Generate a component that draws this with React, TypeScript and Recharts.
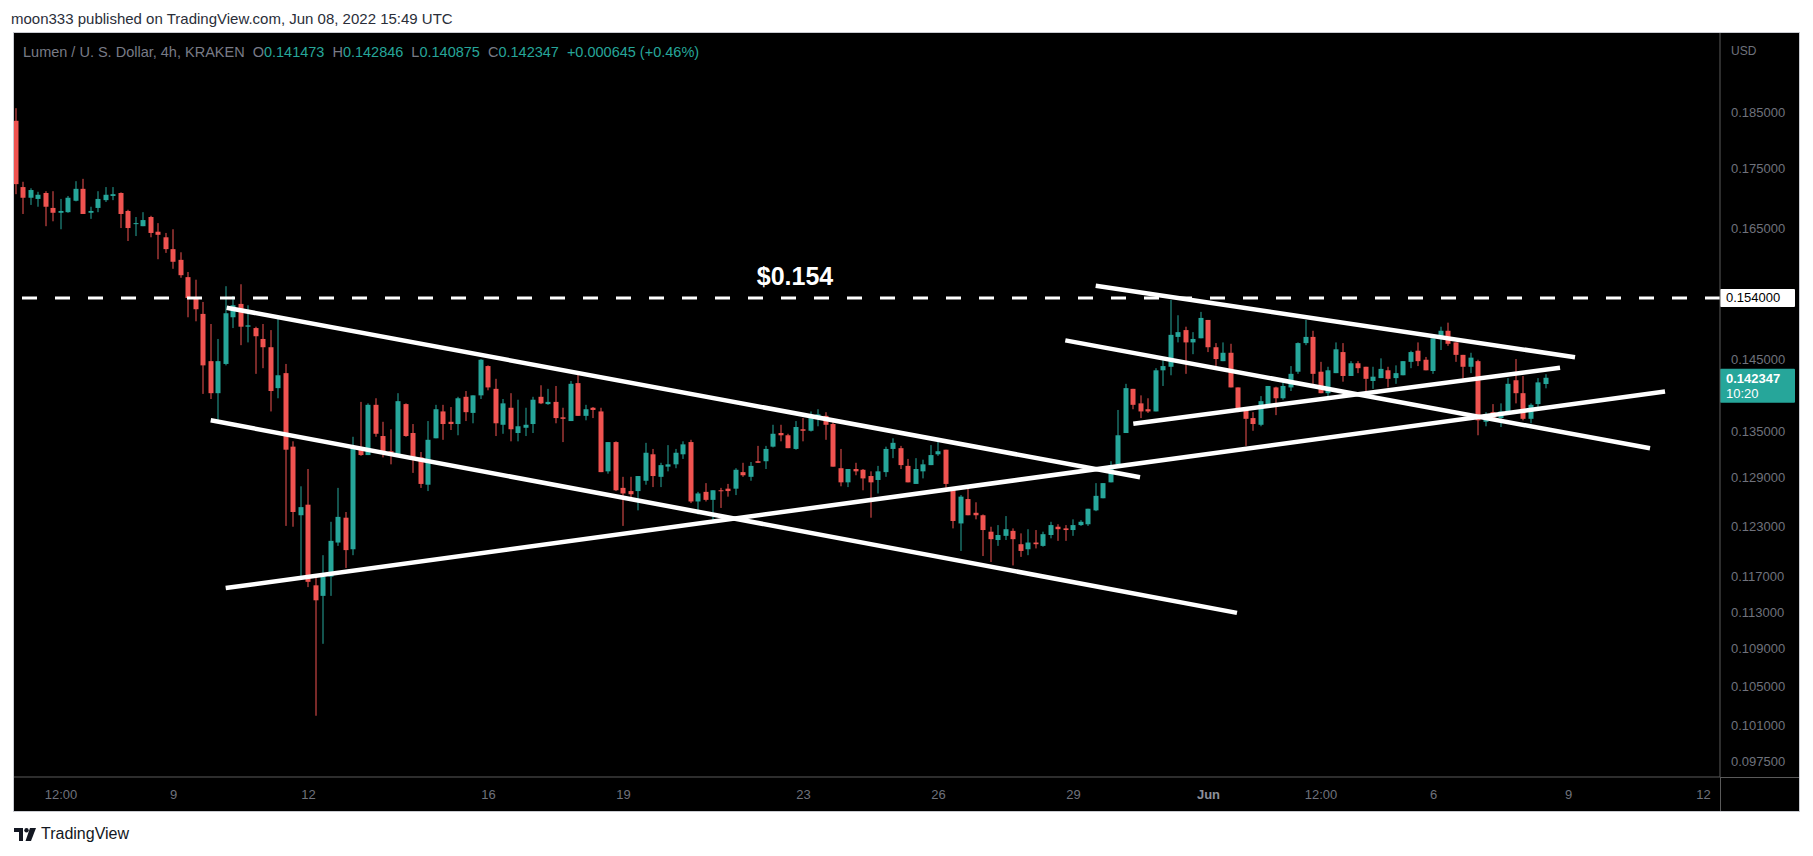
import React from 'react';
import { ComposedChart, Bar, XAxis, YAxis, ReferenceLine } from 'recharts';

// ---- data (Lumen / USD, 4h, KRAKEN) ----
const opens = [
  0.1834, 0.1718, 0.1700, 0.1698, 0.1708, 0.1683, 0.1675, 0.1676, 0.1695, 0.1715,
  0.1675, 0.1683, 0.1696, 0.1703, 0.1708, 0.1678, 0.1657, 0.1653, 0.1668, 0.1644,
  0.1635, 0.1616, 0.1599, 0.1572, 0.1541, 0.1516, 0.1447, 0.1402, 0.1443, 0.1511,
  0.1531, 0.1497, 0.1495, 0.1479, 0.1467, 0.1409, 0.1430, 0.1330, 0.1243, 0.1256,
  0.1160, 0.1148, 0.1170, 0.1210, 0.1240, 0.1202, 0.1328, 0.1319, 0.1386, 0.1344,
  0.1324, 0.1319, 0.1387, 0.1348, 0.1316, 0.1281, 0.1341, 0.1377, 0.1363, 0.1360,
  0.1397, 0.1375, 0.1399, 0.1440, 0.1408, 0.1359, 0.1382, 0.1348, 0.1355, 0.1360,
  0.1397, 0.1387, 0.1390, 0.1369, 0.1364, 0.1416, 0.1371, 0.1382, 0.1377, 0.1298,
  0.1336, 0.1277, 0.1273, 0.1273, 0.1286, 0.1320, 0.1291, 0.1304, 0.1307, 0.1320,
  0.1336, 0.1260, 0.1272, 0.1262, 0.1274, 0.1276, 0.1276, 0.1297, 0.1291, 0.1311,
  0.1311, 0.1330, 0.1348, 0.1345, 0.1327, 0.1353, 0.1351, 0.1367, 0.1371, 0.1360,
  0.1302, 0.1284, 0.1301, 0.1300, 0.1292, 0.1287, 0.1297, 0.1327, 0.1328, 0.1305,
  0.1282, 0.1298, 0.1306, 0.1320, 0.1326, 0.1277, 0.1233, 0.1263, 0.1246, 0.1243,
  0.1223, 0.1213, 0.1218, 0.1224, 0.1208, 0.1202, 0.1210, 0.1206, 0.1219, 0.1229,
  0.1227, 0.1225, 0.1231, 0.1232, 0.1249, 0.1264, 0.1284, 0.1307, 0.1348, 0.1408,
  0.1388, 0.1380, 0.1377, 0.1434, 0.1439, 0.1482, 0.1492, 0.1474, 0.1480, 0.1507,
  0.1467, 0.1447, 0.1459, 0.1410, 0.1379, 0.1368, 0.1359, 0.1384, 0.1410, 0.1395,
  0.1410, 0.1432, 0.1473, 0.1482, 0.1432, 0.1402, 0.1430, 0.1460, 0.1426, 0.1444,
  0.1439, 0.1419, 0.1423, 0.1434, 0.1423, 0.1427, 0.1446, 0.1462, 0.1449, 0.1433,
  0.1479, 0.1491, 0.1474, 0.1456, 0.1439, 0.1447, 0.1363, 0.1376, 0.1368, 0.1376,
  0.1420, 0.1402, 0.1367, 0.1387, 0.141473,
];
const highs = [
  0.1857, 0.1727, 0.1716, 0.1710, 0.1711, 0.1711, 0.1698, 0.1703, 0.1728, 0.1732,
  0.1685, 0.1711, 0.1718, 0.1718, 0.1709, 0.1680, 0.1668, 0.1676, 0.1670, 0.1658,
  0.1642, 0.1648, 0.1611, 0.1580, 0.1568, 0.1534, 0.1501, 0.1479, 0.1558, 0.1543,
  0.1561, 0.1529, 0.1497, 0.1501, 0.1492, 0.1510, 0.1443, 0.1337, 0.1279, 0.1301,
  0.1170, 0.1195, 0.1235, 0.1277, 0.1247, 0.1343, 0.1390, 0.1388, 0.1395, 0.1363,
  0.1353, 0.1402, 0.1388, 0.1360, 0.1323, 0.1364, 0.1386, 0.1386, 0.1383, 0.1397,
  0.1405, 0.1399, 0.1450, 0.1441, 0.1422, 0.1394, 0.1402, 0.1393, 0.1382, 0.1397,
  0.1413, 0.1408, 0.1412, 0.1382, 0.1419, 0.1429, 0.1386, 0.1383, 0.1382, 0.1336,
  0.1337, 0.1291, 0.1291, 0.1292, 0.1335, 0.1327, 0.1309, 0.1332, 0.1327, 0.1337,
  0.1339, 0.1272, 0.1283, 0.1274, 0.1277, 0.1282, 0.1302, 0.1309, 0.1310, 0.1331,
  0.1331, 0.1359, 0.1359, 0.1347, 0.1364, 0.1368, 0.1377, 0.1380, 0.1376, 0.1368,
  0.1327, 0.1301, 0.1309, 0.1301, 0.1298, 0.1305, 0.1330, 0.1341, 0.1331, 0.1314,
  0.1315, 0.1313, 0.1332, 0.1336, 0.1326, 0.1277, 0.1268, 0.1277, 0.1259, 0.1244,
  0.1229, 0.1231, 0.1242, 0.1227, 0.1221, 0.1226, 0.1225, 0.1223, 0.1235, 0.1232,
  0.1231, 0.1238, 0.1237, 0.1251, 0.1283, 0.1283, 0.1311, 0.1379, 0.1415, 0.1408,
  0.1399, 0.1395, 0.1437, 0.1449, 0.1537, 0.1514, 0.1497, 0.1489, 0.1519, 0.1507,
  0.1473, 0.1474, 0.1472, 0.1410, 0.1379, 0.1376, 0.1398, 0.1412, 0.1411, 0.1419,
  0.1440, 0.1474, 0.1507, 0.1491, 0.1446, 0.1439, 0.1474, 0.1473, 0.1447, 0.1447,
  0.1439, 0.1439, 0.1451, 0.1439, 0.1441, 0.1447, 0.1462, 0.1474, 0.1453, 0.1480,
  0.1497, 0.1503, 0.1474, 0.1456, 0.1459, 0.1449, 0.1376, 0.1387, 0.1388, 0.1423,
  0.1450, 0.1426, 0.1388, 0.1423, 0.142846,
];
const lows = [
  0.1706, 0.1673, 0.1688, 0.1685, 0.1653, 0.1661, 0.1648, 0.1675, 0.1694, 0.1673,
  0.1665, 0.1676, 0.1693, 0.1696, 0.1650, 0.1629, 0.1637, 0.1653, 0.1635, 0.1600,
  0.1610, 0.1585, 0.1571, 0.1511, 0.1505, 0.1401, 0.1394, 0.1365, 0.1441, 0.1495,
  0.1470, 0.1474, 0.1429, 0.1437, 0.1377, 0.1395, 0.1230, 0.1229, 0.1170, 0.1158,
  0.1020, 0.1095, 0.1148, 0.1206, 0.1180, 0.1195, 0.1318, 0.1319, 0.1343, 0.1316,
  0.1307, 0.1319, 0.1343, 0.1296, 0.1277, 0.1273, 0.1341, 0.1339, 0.1352, 0.1345,
  0.1364, 0.1361, 0.1394, 0.1406, 0.1344, 0.1347, 0.1337, 0.1337, 0.1344, 0.1348,
  0.1387, 0.1386, 0.1361, 0.1336, 0.1364, 0.1371, 0.1365, 0.1368, 0.1297, 0.1295,
  0.1273, 0.1230, 0.1263, 0.1249, 0.1281, 0.1278, 0.1278, 0.1298, 0.1302, 0.1314,
  0.1258, 0.1244, 0.1260, 0.1236, 0.1252, 0.1266, 0.1268, 0.1291, 0.1286, 0.1309,
  0.1301, 0.1329, 0.1337, 0.1328, 0.1326, 0.1337, 0.1350, 0.1357, 0.1339, 0.1304,
  0.1279, 0.1278, 0.1293, 0.1274, 0.1240, 0.1270, 0.1291, 0.1315, 0.1301, 0.1284,
  0.1282, 0.1289, 0.1306, 0.1318, 0.1277, 0.1227, 0.1200, 0.1243, 0.1238, 0.1194,
  0.1187, 0.1206, 0.1213, 0.1183, 0.1193, 0.1195, 0.1203, 0.1205, 0.1215, 0.1212,
  0.1212, 0.1218, 0.1230, 0.1230, 0.1248, 0.1264, 0.1284, 0.1307, 0.1348, 0.1380,
  0.1368, 0.1375, 0.1377, 0.1412, 0.1427, 0.1474, 0.1429, 0.1457, 0.1480, 0.1460,
  0.1440, 0.1447, 0.1410, 0.1376, 0.1331, 0.1351, 0.1357, 0.1384, 0.1372, 0.1393,
  0.1405, 0.1429, 0.1470, 0.1415, 0.1402, 0.1395, 0.1430, 0.1418, 0.1426, 0.1430,
  0.1405, 0.1408, 0.1423, 0.1410, 0.1415, 0.1427, 0.1437, 0.1440, 0.1434, 0.1429,
  0.1463, 0.1469, 0.1446, 0.1420, 0.1430, 0.1345, 0.1357, 0.1367, 0.1356, 0.1376,
  0.1388, 0.1365, 0.1361, 0.1383, 0.140875,
];
const closes = [
  0.1723, 0.1700, 0.1713, 0.1705, 0.1685, 0.1675, 0.1678, 0.1700, 0.1715, 0.1673,
  0.1678, 0.1698, 0.1705, 0.1706, 0.1673, 0.1650, 0.1658, 0.1663, 0.1642, 0.1639,
  0.1616, 0.1596, 0.1575, 0.1540, 0.1523, 0.1441, 0.1402, 0.1447, 0.1517, 0.1529,
  0.1497, 0.1499, 0.1483, 0.1467, 0.1405, 0.1427, 0.1326, 0.1247, 0.1253, 0.1164,
  0.1143, 0.1170, 0.1212, 0.1241, 0.1201, 0.1330, 0.1319, 0.1386, 0.1347, 0.1322,
  0.1318, 0.1391, 0.1344, 0.1316, 0.1282, 0.1339, 0.1380, 0.1360, 0.1360, 0.1395,
  0.1376, 0.1399, 0.1449, 0.1410, 0.1361, 0.1388, 0.1353, 0.1357, 0.1359, 0.1393,
  0.1388, 0.1390, 0.1368, 0.1367, 0.1415, 0.1371, 0.1380, 0.1379, 0.1297, 0.1336,
  0.1274, 0.1270, 0.1269, 0.1292, 0.1322, 0.1292, 0.1306, 0.1307, 0.1322, 0.1333,
  0.1260, 0.1270, 0.1262, 0.1274, 0.1273, 0.1273, 0.1300, 0.1293, 0.1305, 0.1309,
  0.1327, 0.1347, 0.1345, 0.1328, 0.1356, 0.1351, 0.1368, 0.1373, 0.1359, 0.1304,
  0.1284, 0.1301, 0.1298, 0.1289, 0.1284, 0.1298, 0.1327, 0.1335, 0.1306, 0.1284,
  0.1301, 0.1307, 0.1319, 0.1324, 0.1282, 0.1236, 0.1266, 0.1243, 0.1243, 0.1225,
  0.1214, 0.1219, 0.1226, 0.1214, 0.1200, 0.1210, 0.1208, 0.1220, 0.1231, 0.1226,
  0.1225, 0.1231, 0.1235, 0.1251, 0.1267, 0.1283, 0.1306, 0.1345, 0.1409, 0.1386,
  0.1377, 0.1377, 0.1434, 0.1440, 0.1485, 0.1489, 0.1474, 0.1479, 0.1510, 0.1467,
  0.1450, 0.1459, 0.1410, 0.1380, 0.1367, 0.1360, 0.1391, 0.1412, 0.1395, 0.1412,
  0.1429, 0.1473, 0.1482, 0.1429, 0.1402, 0.1434, 0.1464, 0.1426, 0.1444, 0.1437,
  0.1422, 0.1425, 0.1436, 0.1422, 0.1430, 0.1447, 0.1460, 0.1447, 0.1434, 0.1480,
  0.1491, 0.1472, 0.1456, 0.1439, 0.1452, 0.1365, 0.1373, 0.1367, 0.1377, 0.1415,
  0.1402, 0.1367, 0.1386, 0.141702, 0.142347,
];

// x ticks: candle index -> label
const xTickIndex = [6, 21, 39, 63, 81, 105, 123, 141, 159, 174, 189, 207, 225];
const xTickLabels = ['12:00', '9', '12', '16', '19', '23', '26', '29', 'Jun', '12:00', '6', '9', '12'];
const yTicks = [0.185, 0.175, 0.165, 0.145, 0.135, 0.129, 0.123, 0.117, 0.113, 0.109, 0.105, 0.101, 0.0975];

const levelPrice = 0.154;
const levelText = '$0.154';

// trend lines: [startIndex, startPrice, endIndex, endPrice]
const trendLines = [
  [28.09, 0.15253, 149.87, 0.12904],
  [25.96, 0.1365, 162.8, 0.11289],
  [27.96, 0.11569, 219.87, 0.14043],
  [143.96, 0.15588, 207.87, 0.14526],
  [139.91, 0.1477, 217.87, 0.13278],
  [148.97, 0.13605, 205.87, 0.14377],
];

const UP = '#26a69a';
const DOWN = '#ef5350';
const AXIS_TEXT = '#6f727c';
const AXIS_LINE = '#5a5a5a';
const FONT = '"Liberation Sans", Arial, sans-serif';

const rows = opens.map((o, i) => ({
  i,
  open: o,
  high: highs[i],
  low: lows[i],
  close: closes[i],
  range: [lows[i], highs[i]],
}));

const last = rows.length - 1;
const lastClose = closes[last];
const change = closes[last] - closes[last - 1];
const changePct = (change / closes[last - 1]) * 100;

const Candle = (props: any) => {
  const { x, y, width, height, payload } = props;
  if (x == null || y == null || !payload) return null;
  const top = Math.min(y, y + height);
  const bot = Math.max(y, y + height);
  const lh = Math.log(payload.high);
  const ll = Math.log(payload.low);
  const span = lh - ll;
  const toY = (p: number) => (span > 0 ? top + ((bot - top) * (lh - Math.log(p))) / span : top);
  const yo = toY(payload.open);
  const yc = toY(payload.close);
  const up = payload.close >= payload.open;
  const color = up ? UP : DOWN;
  const bTop = Math.min(yo, yc);
  const bH = Math.max(Math.abs(yo - yc), 1);
  const cx = Math.round(x + width / 2);
  return (
    <g>
      <rect x={cx - 0.5} y={top} width={1} height={Math.max(bot - top, 1)} fill={color} />
      <rect x={cx - width / 2} y={bTop} width={width} height={bH} fill={color} />
    </g>
  );
};

const XTick = (props: any) => {
  const { x, y, payload } = props;
  const idx = xTickIndex.indexOf(payload.value);
  const label = idx >= 0 ? xTickLabels[idx] : '';
  const bold = label === 'Jun';
  return (
    <text x={x} y={y} dy="0.71em" textAnchor="middle" fill={bold ? '#8d909a' : AXIS_TEXT}
      fontSize={13} fontFamily={FONT} fontWeight={bold ? 700 : 400}>
      {label}
    </text>
  );
};

const LevelLabel = (props: any) => {
  const vb = props.viewBox || {};
  const right = vb.x + vb.width;
  return (
    <g>
      <text x={vb.x + 781} y={vb.y - 13} textAnchor="middle" fill="#ffffff" fontSize={25}
        fontWeight={700} fontFamily={FONT}>{levelText}</text>
      <rect x={right} y={vb.y - 9} width={75} height={18} fill="#ffffff" rx={1} />
      <text x={right + 6} y={vb.y + 4.5} fill="#000000" fontSize={13} fontFamily={FONT}>
        {levelPrice.toFixed(6)}
      </text>
    </g>
  );
};

const LastLabel = (props: any) => {
  const vb = props.viewBox || {};
  const right = vb.x + vb.width;
  return (
    <g>
      <rect x={right} y={vb.y - 9} width={75} height={34} fill={UP} rx={1} />
      <text x={right + 6} y={vb.y + 5} fill="#ffffff" fontSize={13} fontWeight={700} fontFamily={FONT}>
        {lastClose.toFixed(6)}
      </text>
      <text x={right + 6} y={vb.y + 20} fill="#ffffff" fontSize={13} fontFamily={FONT}>10:20</text>
    </g>
  );
};

const Logo = () => (
  <svg width="22" height="13" viewBox="0 0 22 13" style={{ display: 'block' }}>
    <path d="M0 0h9v13H5V4H0z" fill="#131722" />
    <circle cx="12.5" cy="2.2" r="2.2" fill="#131722" />
    <path d="M16 0h6l-5 13h-5.5z" fill="#131722" />
  </svg>
);

export default function App() {
  const legendGap = 8;
  return (
    <div style={{ position: 'absolute', left: 0, top: 0, width: 1813, height: 856, background: '#ffffff', overflow: 'hidden', fontFamily: FONT }}>
      <div style={{ position: 'absolute', left: 11, top: 10, fontSize: 15, color: '#2a2e39', whiteSpace: 'nowrap' }}>
        moon333 published on TradingView.com, Jun 08, 2022 15:49 UTC
      </div>
      <div style={{ position: 'absolute', left: 13, top: 32, width: 1787, height: 780, boxSizing: 'border-box', border: '1px solid #c9cbd1', background: '#000000' }} />
      <div style={{ position: 'absolute', left: 14, top: 33 }}>
        <ComposedChart width={1785} height={778} data={rows} margin={{ top: 0, right: 0, bottom: 0, left: 0 }}>
          <XAxis dataKey="i" type="number" domain={[-0.267, 227.2]} allowDataOverflow ticks={xTickIndex}
            interval={0} tick={<XTick />} tickLine={false} tickSize={6} tickMargin={7} height={34}
            axisLine={{ stroke: AXIS_LINE }} />
          <YAxis orientation="right" type="number" scale="log" domain={[0.096021, 0.19999]} allowDataOverflow
            ticks={yTicks} interval={0} tickFormatter={(v: number) => v.toFixed(6)} width={79}
            tickLine={false} tickSize={5} tickMargin={6}
            tick={{ fill: AXIS_TEXT, fontSize: 13, fontFamily: FONT }} axisLine={{ stroke: AXIS_LINE }} />
          <Bar dataKey="range" barSize={5} shape={<Candle />} isAnimationActive={false} />
          {trendLines.map((t, k) => (
            <ReferenceLine key={k} segment={[{ x: t[0], y: t[1] }, { x: t[2], y: t[3] }]}
              stroke="#ffffff" strokeWidth={4.5} ifOverflow="visible" />
          ))}
          <ReferenceLine y={levelPrice} stroke="#ffffff" strokeWidth={3} strokeDasharray="15 18"
            ifOverflow="visible" label={(p: any) => <LevelLabel {...p} />} />
          <ReferenceLine y={lastClose} stroke="none" ifOverflow="visible" label={(p: any) => <LastLabel {...p} />} />
        </ComposedChart>
      </div>
      {/* axis separators extending into the corner */}
      <div style={{ position: 'absolute', left: 1720, top: 777, width: 79, height: 1, background: AXIS_LINE }} />
      <div style={{ position: 'absolute', left: 1720, top: 777, width: 1, height: 34, background: AXIS_LINE }} />
      <div style={{ position: 'absolute', left: 1731, top: 44, fontSize: 12, color: AXIS_TEXT }}>USD</div>
      <div style={{ position: 'absolute', left: 23, top: 44, fontSize: 14.5, whiteSpace: 'nowrap', display: 'flex', gap: legendGap, color: '#787b86' }}>
        <span>Lumen / U. S. Dollar, 4h, KRAKEN</span>
        <span>O<span style={{ color: UP }}>{opens[last].toFixed(6)}</span></span>
        <span>H<span style={{ color: UP }}>{highs[last].toFixed(6)}</span></span>
        <span>L<span style={{ color: UP }}>{lows[last].toFixed(6)}</span></span>
        <span>C<span style={{ color: UP }}>{closes[last].toFixed(6)}</span></span>
        <span style={{ color: UP }}>{(change >= 0 ? '+' : '') + change.toFixed(6)} ({(changePct >= 0 ? '+' : '') + changePct.toFixed(2)}%)</span>
      </div>
      <div style={{ position: 'absolute', left: 14, top: 825, display: 'flex', alignItems: 'center', gap: 5 }}>
        <Logo />
        <span style={{ fontSize: 16, color: '#131722' }}>TradingView</span>
      </div>
    </div>
  );
}
